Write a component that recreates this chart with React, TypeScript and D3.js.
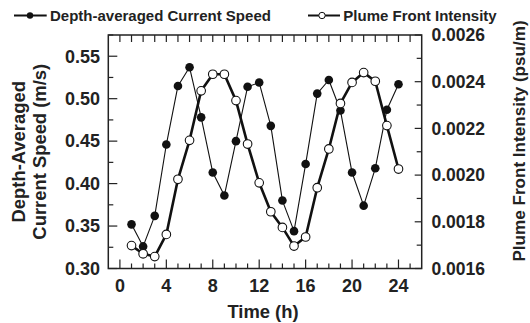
import React from "react";
import * as d3 from "d3";

const hours = [1, 2, 3, 4, 5, 6, 7, 8, 9, 10, 11, 12, 13, 14, 15, 16, 17, 18, 19, 20, 21, 22, 23, 24];
const speed = [0.352, 0.326, 0.362, 0.446, 0.515, 0.537, 0.478, 0.413, 0.386, 0.45, 0.514, 0.519, 0.468, 0.38, 0.344, 0.423, 0.506, 0.522, 0.486, 0.413, 0.374, 0.418, 0.487, 0.517];
const intensity = [0.001698, 0.001663, 0.001651, 0.001746, 0.001982, 0.002149, 0.002361, 0.002432, 0.002432, 0.002319, 0.002133, 0.001967, 0.001843, 0.001776, 0.001696, 0.001735, 0.001946, 0.002112, 0.002307, 0.002397, 0.002439, 0.002402, 0.002212, 0.002026];
const xLabels = [0, 4, 8, 12, 16, 20, 24];
const leftLabels = [0.3, 0.35, 0.4, 0.45, 0.5, 0.55];
const rightLabels = [0.0016, 0.0018, 0.002, 0.0022, 0.0024, 0.0026];

const W = 530;
const H = 323;
const font = "'Liberation Sans', Arial, Helvetica, sans-serif";

const App = () => {
  const left = 108.3, right = 421.7, top = 35, bottom = 268.5;
  const x = d3.scaleLinear().domain([-1, 26]).range([left, right]);
  const yL = d3.scaleLinear().domain([0.3, 0.575]).range([bottom, top]);
  const yR = d3.scaleLinear().domain([0.0016, 0.0026]).range([bottom, top]);

  const speedLine = d3.line<number>().x((_, i) => x(hours[i])).y((d) => yL(d));
  const intLine = d3.line<number>().x((_, i) => x(hours[i])).y((d) => yR(d));

  const hourTicks = d3.range(0, 26);
  const leftTicks = d3.range(0, 12).map((i) => 0.3 + i * 0.025);
  const rightTicks = d3.range(0, 11).map((i) => 0.0016 + i * 0.0001);

  return (
    <svg width={W} height={H} style={{ position: "absolute", left: 0, top: 0 }} fontFamily={font} fontWeight="bold">
      <rect width={W} height={H} fill="#fff" />

      {/* legend */}
      <g>
        <line x1={14} x2={46.7} y1={15.5} y2={15.5} stroke="#111" strokeWidth={2} />
        <circle cx={30} cy={15.5} r={3.2} fill="#111" />
        <text x={50} y={20.7} fontSize={15} fill="#222">Depth-averaged Current Speed</text>
        <line x1={308} x2={340} y1={15.5} y2={15.5} stroke="#111" strokeWidth={2} />
        <circle cx={322} cy={15.5} r={3.2} fill="#fff" stroke="#111" strokeWidth={1} />
        <text x={343.3} y={20.7} fontSize={15} fill="#222">Plume Front Intensity</text>
      </g>

      {/* ticks */}
      <g stroke="#222" strokeWidth={1.2}>
        {hourTicks.map((t) => (
          <line key={"b" + t} x1={x(t)} x2={x(t)} y1={bottom} y2={bottom - (t % 4 === 0 ? 9 : 5)} />
        ))}
        {hourTicks.map((t) => (
          <line key={"t" + t} x1={x(t)} x2={x(t)} y1={top} y2={top + 7} />
        ))}
        {leftTicks.map((t, i) => (
          <line key={"l" + i} x1={left} x2={left + (i % 2 === 0 ? 9 : 5)} y1={yL(t)} y2={yL(t)} />
        ))}
        {rightTicks.map((t, i) => (
          <line key={"r" + i} x1={right} x2={right - (i % 2 === 0 ? 7 : 5)} y1={yR(t)} y2={yR(t)} />
        ))}
      </g>
      <rect x={left} y={top} width={right - left} height={bottom - top} fill="none" stroke="#222" strokeWidth={1.5} />

      {/* tick labels */}
      <g fontSize={18} fill="#222">
        {xLabels.map((t) => (
          <text key={t} x={x(t)} y={292} textAnchor="middle">{t}</text>
        ))}
        {leftLabels.map((t) => (
          <text key={t} x={100} y={yL(t)} dy="0.35em" textAnchor="end">{t.toFixed(2)}</text>
        ))}
      </g>
      <g fontSize={17.5} fill="#222">
        {rightLabels.map((t) => (
          <text key={t} x={431.5} y={yR(t)} dy="0.35em" textAnchor="start">{t.toFixed(4)}</text>
        ))}
      </g>

      {/* axis titles */}
      <text x={263} y={318.3} fontSize={18.4} textAnchor="middle" fill="#222">Time (h)</text>
      <g transform={`translate(0,${(top + bottom) / 2}) rotate(-90)`} fontSize={18.4} fill="#222" textAnchor="middle">
        <text x={0} y={24.7}>Depth-Averaged</text>
        <text x={0} y={46.3}>Current Speed (m/s)</text>
      </g>
      <text transform={`translate(525,${141}) rotate(-90)`} fontSize={17.1} textAnchor="middle" fill="#222">
        Plume Front Intensity (psu/m)
      </text>

      {/* series */}
      <path d={intLine(intensity) ?? ""} fill="none" stroke="#111" strokeWidth={2.6} strokeLinejoin="round" />
      <path d={speedLine(speed) ?? ""} fill="none" stroke="#111" strokeWidth={1.1} strokeLinejoin="round" />
      {speed.map((v, i) => (
        <circle key={"s" + i} cx={x(hours[i])} cy={yL(v)} r={4.3} fill="#111" />
      ))}
      {intensity.map((v, i) => (
        <circle key={"p" + i} cx={x(hours[i])} cy={yR(v)} r={4.3} fill="#fff" stroke="#111" strokeWidth={1.1} />
      ))}
    </svg>
  );
};

export default App;
